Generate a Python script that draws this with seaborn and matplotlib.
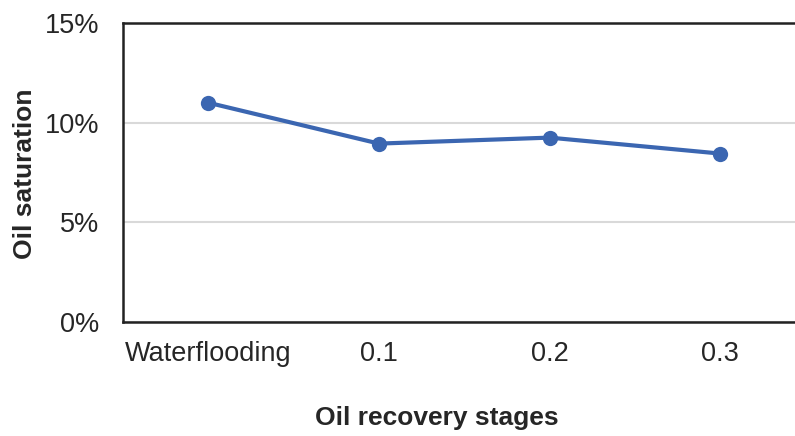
import matplotlib
matplotlib.use("Agg")
import matplotlib.pyplot as plt
from matplotlib.ticker import FuncFormatter
import seaborn as sns
import pandas as pd

stages = ["Waterflooding", "0.1", "0.2", "0.3"]
oil_saturation = [11.0, 8.95, 9.25, 8.45]
y_ticks = [0, 5, 10, 15]

sns.set_theme(style="white")
plt.rcParams["font.family"] = ["Liberation Sans", "DejaVu Sans"]

df = pd.DataFrame({"stage": stages, "saturation": oil_saturation})

W, H = 795, 436
fig = plt.figure(figsize=(W / 100, H / 100), dpi=100)
# plot area runs past the right edge of the canvas
left, right, top, bottom = 123, 805.5, 23, 322
ax = fig.add_axes([left / W, (H - bottom) / H, (right - left) / W, (bottom - top) / H])

sns.lineplot(data=df, x="stage", y="saturation", ax=ax, color="#3B66B1",
             linewidth=3, marker="o", markersize=11, markeredgewidth=0,
             sort=False)

ax.set_xlim(-0.5, len(stages) - 0.5)
ax.set_ylim(0, 15)
ax.set_yticks(y_ticks)
ax.yaxis.set_major_formatter(FuncFormatter(lambda v, p: f"{v:.0f}%"))
ax.grid(axis="y", color="#D9D9D9", linewidth=1.5)
ax.set_axisbelow(True)

for side in ["left", "bottom", "top"]:
    ax.spines[side].set_visible(True)
    ax.spines[side].set_color("#222222")
    ax.spines[side].set_linewidth(1.8)
ax.spines["right"].set_visible(False)

text_color = "#262626"
ax.tick_params(axis="both", length=0, labelsize=19.5, colors=text_color)
ax.tick_params(axis="x", pad=14)
ax.tick_params(axis="y", pad=17)

ax.set_xlabel("Oil recovery stages", fontsize=19, fontweight="bold",
              color=text_color, va="center")
ax.set_ylabel("Oil saturation", fontsize=19, fontweight="bold",
              color=text_color, va="center")
ax.xaxis.set_label_coords((437 - left) / (right - left), -(418 - bottom) / (bottom - top))
ax.yaxis.set_label_coords((25 - left) / (right - left), (bottom - 174) / (bottom - top))

fig.savefig("out.png", dpi=100)
